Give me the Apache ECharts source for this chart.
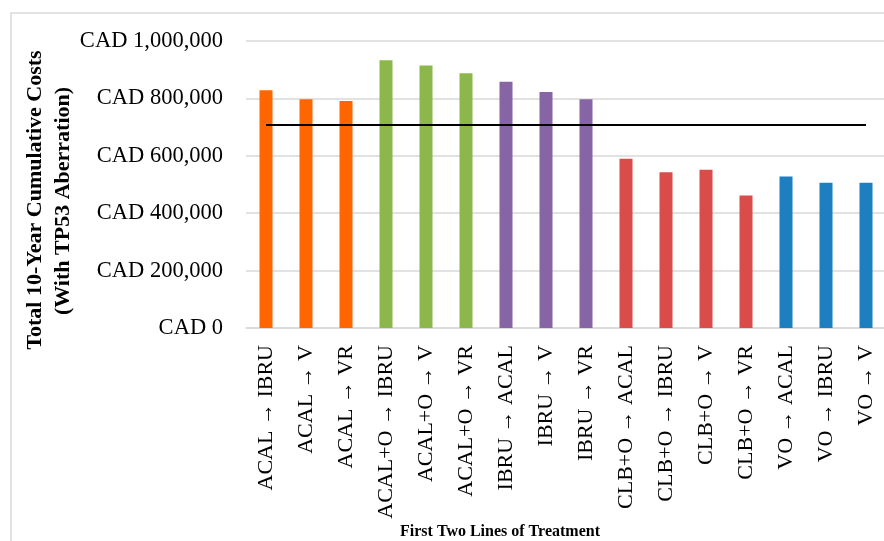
<!DOCTYPE html>
<html>
<head>
<meta charset="utf-8">
<script src="https://cdn.jsdelivr.net/npm/echarts@6/dist/echarts.min.js"></script>
<style>
  html, body { margin: 0; padding: 0; background: #fff; }
  #chart { width: 884px; height: 541px; }
</style>
</head>
<body>
<div id="chart"></div>
<script>
// first two lines of treatment
var categories = [
  'ACAL → IBRU', 'ACAL → V', 'ACAL → VR',
  'ACAL+O → IBRU', 'ACAL+O → V', 'ACAL+O → VR',
  'IBRU → ACAL', 'IBRU → V', 'IBRU → VR',
  'CLB+O → ACAL', 'CLB+O → IBRU', 'CLB+O → V', 'CLB+O → VR',
  'VO → ACAL', 'VO → IBRU', 'VO → V'
];
// first line each bar belongs to (picks the colour)
var firstLine = [
  'ACAL', 'ACAL', 'ACAL',
  'ACAL+O', 'ACAL+O', 'ACAL+O',
  'IBRU', 'IBRU', 'IBRU',
  'CLB+O', 'CLB+O', 'CLB+O', 'CLB+O',
  'VO', 'VO', 'VO'
];
// total 10-year cumulative costs, CAD
var costs = [
  828000, 797000, 791000,
  933000, 915000, 888000,
  858000, 822000, 797000,
  590000, 543000, 551000, 462000,
  528000, 506000, 506000
];
var threshold = 707000;
var yTicks = [0, 200000, 400000, 600000, 800000, 1000000];

var colors = {
  'ACAL': '#ff6600',
  'ACAL+O': '#8cb84b',
  'IBRU': '#8764a3',
  'CLB+O': '#d94c49',
  'VO': '#1d7ec0'
};

var font = '"Liberation Serif", "DejaVu Serif", serif';

function fmt(v) {
  return 'CAD ' + v.toLocaleString('en-US');
}

var chart = echarts.init(document.getElementById('chart'));

chart.setOption({
  animation: false,
  backgroundColor: '#fff',
  textStyle: { fontFamily: font },
  grid: {
    left: 246, top: 41, width: 640, height: 287,
    containLabel: false, outerBoundsMode: 'none'
  },
  graphic: [
    {
      type: 'rect', silent: true, z: -1,
      shape: { x: 11, y: 13, width: 900, height: 560 },
      style: { fill: 'none', stroke: '#d9d9d9', lineWidth: 1.5 }
    },
    {
      type: 'text', x: 35, y: 200, rotation: Math.PI / 2,
      style: {
        text: 'Total 10-Year Cumulative Costs',
        font: 'bold 22px ' + font, fill: '#000',
        align: 'center', verticalAlign: 'middle'
      }
    },
    {
      type: 'text', x: 63, y: 201, rotation: Math.PI / 2,
      style: {
        text: '(With TP53 Aberration)',
        font: 'bold 22px ' + font, fill: '#000',
        align: 'center', verticalAlign: 'middle'
      }
    },
    {
      type: 'text', x: 500, y: 532,
      style: {
        text: 'First Two Lines of Treatment',
        font: 'bold 16px ' + font, fill: '#000',
        align: 'center', verticalAlign: 'middle'
      }
    }
  ],
  xAxis: {
    type: 'category',
    data: categories,
    axisLine: { lineStyle: { color: '#d9d9d9', width: 1.5 } },
    axisTick: { show: false },
    axisLabel: { rotate: 90, margin: 17, fontFamily: font, fontSize: 22, color: '#000', interval: 0 }
  },
  yAxis: {
    type: 'value',
    min: 0,
    max: 1000000,
    interval: 200000,
    axisLine: { show: false },
    axisTick: { show: false },
    splitLine: { lineStyle: { color: '#d9d9d9', width: 1.5 } },
    axisLabel: {
      margin: 23, fontFamily: font, fontSize: 22.5, color: '#000',
      formatter: function (v) { return yTicks.indexOf(v) >= 0 ? fmt(v) : ''; }
    }
  },
  series: [
    {
      type: 'bar',
      barWidth: 13,
      data: costs.map(function (v, i) {
        return { value: v, itemStyle: { color: colors[firstLine[i]] } };
      }),
      markLine: {
        silent: true,
        symbol: 'none',
        label: { show: false },
        lineStyle: { color: '#000', width: 2, type: 'solid' },
        data: [[
          { coord: [0, threshold] },
          { coord: [categories.length - 1, threshold] }
        ]]
      }
    }
  ]
});
</script>
</body>
</html>
